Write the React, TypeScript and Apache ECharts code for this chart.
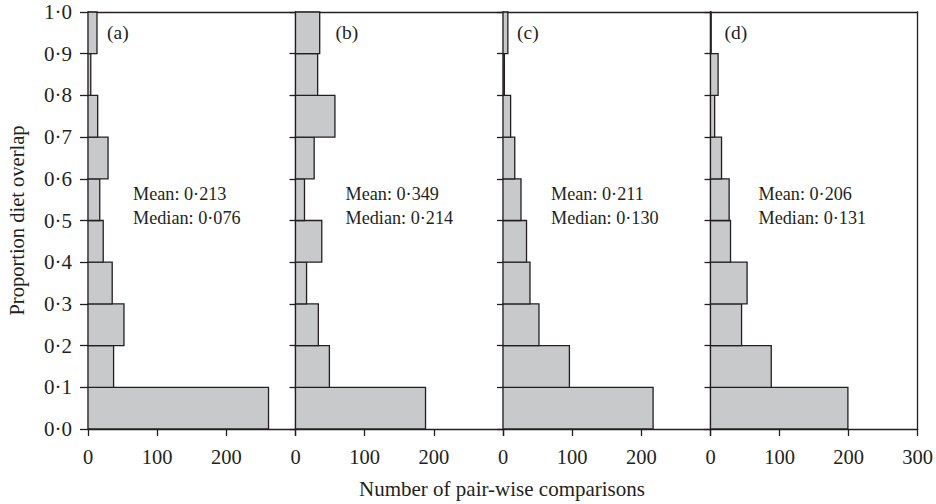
import React, { useEffect, useRef } from "react";
import * as echarts from "echarts";

const binEdges = [0, 0.1, 0.2, 0.3, 0.4, 0.5, 0.6, 0.7, 0.8, 0.9, 1.0];
const panelA = [261, 37, 52, 35, 22, 17, 29, 14, 4, 13];
const panelB = [188, 49, 33, 16, 38, 13, 27, 57, 32, 35];
const panelC = [217, 96, 52, 39, 34, 26, 17, 11, 2, 7];
const panelD = [199, 88, 45, 53, 29, 27, 16, 6, 11, 1];
const panelTags = ["(a)", "(b)", "(c)", "(d)"];
const meanTexts = ["Mean: 0·213", "Mean: 0·349", "Mean: 0·211", "Mean: 0·206"];
const medianTexts = ["Median: 0·076", "Median: 0·214", "Median: 0·130", "Median: 0·131"];

const FONT = "'Liberation Serif', 'DejaVu Serif', serif";
const INK = "#231f20";
const FILL = "#c8c9cb";

export default function App() {
  const ref = useRef<HTMLDivElement>(null);
  useEffect(() => {
    if (!ref.current) return;
    const chart = echarts.init(ref.current, undefined, { renderer: "svg" });
    const panels = [panelA, panelB, panelC, panelD];
    const left0 = 88;
    const pw = 207.5;
    const top = 12;
    const bottom = 75;
    const grids: any[] = [];
    const xAxes: any[] = [];
    const yAxes: any[] = [];
    const series: any[] = [];
    const graphics: any[] = [];
    const tagOffsets = [19, 40, 14, 14];
    const meanOffsets = [45, 50, 48, 48];
    panels.forEach((vals, i) => {
      const left = left0 + pw * i;
      grids.push({ left, top, width: pw, bottom, containLabel: false });
      const last = i === 3;
      xAxes.push({
        type: "value",
        gridIndex: i,
        min: 0,
        max: 300,
        interval: 100,
        position: "bottom",
        axisLine: { show: true, onZero: false, lineStyle: { color: INK, width: 1.3 } },
        axisTick: { show: true, length: 7, lineStyle: { color: INK, width: 1.3 } },
        axisLabel: {
          show: true,
          margin: 17,
          fontFamily: FONT,
          fontSize: 20.5,
          color: INK,
          formatter: (v: number) => (v === 300 && !last ? "" : String(v)),
          showMaxLabel: true,
        },
        splitLine: { show: false },
      });
      xAxes.push({
        type: "value",
        gridIndex: i,
        min: 0,
        max: 300,
        position: "top",
        axisLine: { show: true, onZero: false, lineStyle: { color: INK, width: 1.3 } },
        axisTick: { show: false },
        axisLabel: { show: false },
        splitLine: { show: false },
      });
      yAxes.push({
        type: "value",
        gridIndex: i,
        min: 0,
        max: 1,
        interval: 0.1,
        position: "left",
        name: i === 0 ? "Proportion diet overlap" : "",
        nameLocation: "middle",
        nameRotate: 90,
        nameGap: 61,
        nameTextStyle: { fontFamily: FONT, fontSize: 20.5, color: INK },
        axisLine: { show: true, onZero: false, lineStyle: { color: INK, width: 1.3 } },
        axisTick: { show: true, length: i === 0 ? 8 : 6, lineStyle: { color: INK, width: 1.3 } },
        axisLabel: {
          show: i === 0,
          margin: 16,
          fontFamily: FONT,
          fontSize: 21,
          color: INK,
          formatter: (v: number) => v.toFixed(1).replace(".", "·"),
        },
        splitLine: { show: false },
      });
      if (last) {
        yAxes.push({
          type: "value",
          gridIndex: i,
          min: 0,
          max: 1,
          position: "right",
          axisLine: { show: true, onZero: false, lineStyle: { color: INK, width: 1.3 } },
          axisTick: { show: false },
          axisLabel: { show: false },
          splitLine: { show: false },
        });
      }
      const data = vals.map((v, k) => [binEdges[k], binEdges[k + 1], v]);
      series.push({
        type: "custom",
        xAxisIndex: i * 2,
        yAxisIndex: i,
        encode: { x: 2, y: [0, 1] },
        data,
        renderItem: (params: any, api: any) => {
          const lo = api.value(0);
          const hi = api.value(1);
          const v = api.value(2);
          const p0 = api.coord([0, hi]);
          const p1 = api.coord([v, lo]);
          return {
            type: "rect",
            shape: { x: p0[0], y: p0[1], width: p1[0] - p0[0], height: p1[1] - p0[1] },
            style: { fill: FILL, stroke: INK, lineWidth: 1.3 },
          };
        },
        z: 1,
      });
      graphics.push({
        type: "text",
        left: left + tagOffsets[i],
        top: 22,
        style: { text: panelTags[i], font: `19.5px ${FONT}`, fill: INK },
        z: 10,
      });
      graphics.push({
        type: "text",
        left: left + meanOffsets[i],
        top: 182,
        style: { text: meanTexts[i] + "\n" + medianTexts[i], font: `18.2px ${FONT}`, fill: INK, lineHeight: 24 },
        z: 10,
      });
    });
    graphics.push({
      type: "text",
      x: 502,
      y: 489,
      style: {
        text: "Number of pair-wise comparisons",
        font: `21px ${FONT}`,
        fill: INK,
        textAlign: "center",
        textVerticalAlign: "middle",
      },
    });
    chart.setOption({
      animation: false,
      backgroundColor: "#ffffff",
      grid: grids,
      xAxis: xAxes,
      yAxis: yAxes,
      series,
      graphic: graphics,
    });
    return () => chart.dispose();
  }, []);
  return <div ref={ref} style={{ width: 936, height: 504, position: "absolute", left: 0, top: 0 }} />;
}
